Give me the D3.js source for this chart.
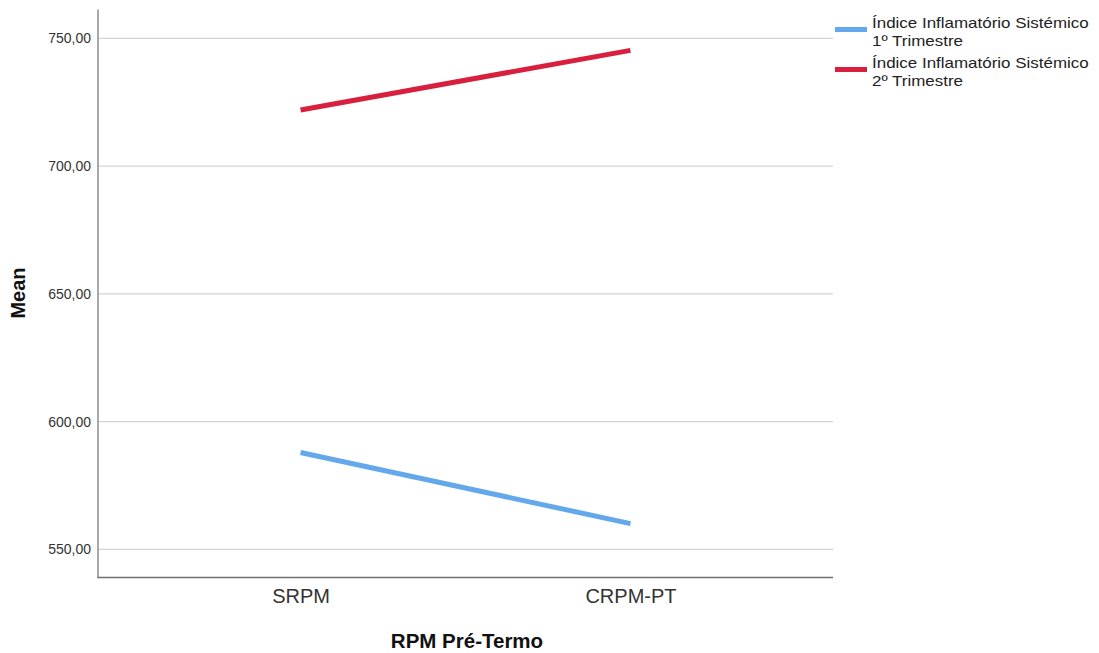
<!DOCTYPE html>
<html>
<head>
<meta charset="utf-8">
<script src="https://cdn.jsdelivr.net/npm/d3@7"></script>
<style>
  body { margin: 0; background: #fff; }
  svg { display: block; font-family: "Liberation Sans", Arial, sans-serif; }
</style>
</head>
<body>
<svg id="chart" width="1099" height="653"></svg>
<script>
const categories = ["SRPM", "CRPM-PT"];
const seriesNames = [
  ["Índice Inflamatório Sistémico", "1º Trimestre"],
  ["Índice Inflamatório Sistémico", "2º Trimestre"]
];
const trimestre1 = [587.9, 560.1];
const trimestre2 = [722.0, 745.3];
const yTicks = [550, 600, 650, 700, 750];
const colors = ["#62a8ea", "#d91f3e"];

const svg = d3.select("#chart");
const pLeft = 98, pRight = 833, pTop = 9.5, pBottom = 577.5;

const x = d3.scalePoint().domain(categories).range([pLeft, pRight]).padding(0.614);
const y = d3.scaleLinear().domain([539, 761.3]).range([pBottom, pTop]);

// gridlines
svg.append("g").selectAll("line").data(yTicks).join("line")
  .attr("x1", pLeft).attr("x2", pRight)
  .attr("y1", d => y(d)).attr("y2", d => y(d))
  .attr("stroke", "#d4d4d4").attr("stroke-width", 1.3);

// y axis
const yAxis = d3.axisLeft(y).tickValues(yTicks).tickSize(0).tickPadding(7)
  .tickFormat(d => d3.format(".2f")(d).replace(".", ","));
const gy = svg.append("g").attr("transform", `translate(${pLeft},0)`).call(yAxis);
gy.select(".domain").remove();
gy.selectAll("text").attr("font-size", 14).attr("fill", "#333")
  .attr("font-family", "Liberation Sans, Arial, sans-serif");

// x axis
const xAxis = d3.axisBottom(x).tickSize(0).tickPadding(11);
const gx = svg.append("g").attr("transform", `translate(0,${pBottom})`).call(xAxis);
gx.select(".domain").remove();
gx.selectAll("text").attr("font-size", 20).attr("fill", "#333")
  .attr("font-family", "Liberation Sans, Arial, sans-serif");

// axis lines
svg.append("line").attr("x1", pLeft).attr("x2", pLeft).attr("y1", pTop).attr("y2", pBottom)
  .attr("stroke", "#8c8c8c").attr("stroke-width", 1.5);
svg.append("line").attr("x1", pLeft - 0.75).attr("x2", pRight).attr("y1", pBottom).attr("y2", pBottom)
  .attr("stroke", "#707070").attr("stroke-width", 1.5);

// lines
const line = d3.line().x((d, i) => x(categories[i])).y(d => y(d));
[trimestre1, trimestre2].forEach((s, k) => {
  svg.append("path").datum(s).attr("d", line)
    .attr("fill", "none").attr("stroke", colors[k]).attr("stroke-width", 5);
});

// axis titles
svg.append("text").attr("x", 467).attr("y", 648).attr("text-anchor", "middle")
  .attr("font-weight", "bold").attr("font-size", 20.5).attr("fill", "#111")
  .text("RPM Pré-Termo");
svg.append("text").attr("transform", "translate(25,293) rotate(-90)")
  .attr("text-anchor", "middle").attr("font-weight", "bold").attr("font-size", 20).attr("fill", "#111")
  .text("Mean");

// legend
const leg = svg.append("g");
seriesNames.forEach((nm, k) => {
  const cy = 29.5 + k * 40;
  leg.append("line").attr("x1", 835).attr("x2", 867).attr("y1", cy).attr("y2", cy)
    .attr("stroke", colors[k]).attr("stroke-width", 5);
  nm.forEach((t, j) => {
    const tx = leg.append("text").attr("x", 872).attr("y", cy - 1.5 + j * 17.5)
      .attr("font-size", 15).attr("fill", "#222").text(t);
    const w = tx.node().getComputedTextLength();
    tx.attr("textLength", w * 1.13).attr("lengthAdjust", "spacingAndGlyphs");
  });
});
</script>
</body>
</html>
